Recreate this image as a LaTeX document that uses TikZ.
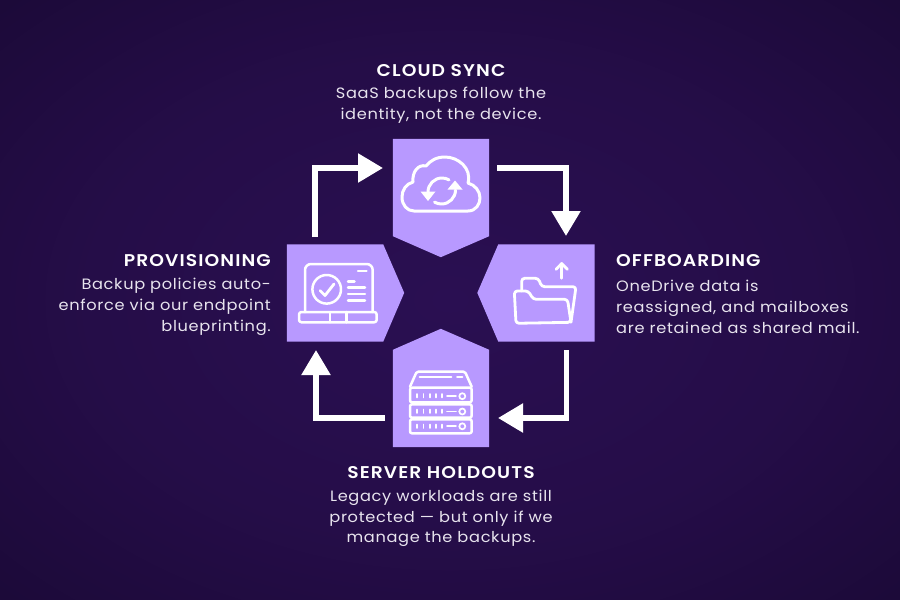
\documentclass[tikz,border=0pt]{standalone}
\usepackage{fontspec}
\usetikzlibrary{arrows.meta}
\newfontfamily\captionfont[LetterSpace=4.5,FakeStretch=1.08]{Poppins}
\newfontfamily\titlefont[LetterSpace=6.5,FakeStretch=1.1]{Poppins SemiBold}
\definecolor{lavender}{HTML}{B899FF}
\definecolor{captiongray}{HTML}{E8E4EE}
\definecolor{glowA}{RGB}{42,15,82}
\definecolor{glowB}{RGB}{37,13,72}
\definecolor{glowC}{RGB}{25,9,52}
\definecolor{glowD}{RGB}{13,6,28}
\definecolor{glowE}{RGB}{8,4,18}
\pgfdeclareradialshading{glow}{\pgfpoint{0bp}{0bp}}{color(0bp)=(glowA); color(20bp)=(glowB); color(40bp)=(glowC); color(60bp)=(glowD); color(71bp)=(glowE)}

\begin{document}
\begin{tikzpicture}[x=1pt, y=-1pt]
\tikzstyle{block} = [rectangle, minimum width=96pt, minimum height=97pt, inner sep=0pt]
\tikzstyle{flow} = [draw=white, line width=5.4pt, -{Triangle[length=25pt,width=28pt]}]
\tikzstyle{icon} = [draw=white, line width=2.5pt, line join=round, line cap=round]
\tikzstyle{thin} = [draw=white, line width=1.7pt, line cap=round]
\tikzstyle{title} = [text=white, inner sep=0pt, font=\titlefont\fontsize{17}{20}\selectfont]
\tikzstyle{caption} = [text=captiongray, inner sep=0pt, font=\captionfont\fontsize{15}{20.8}\selectfont]
\useasboundingbox (0,0) rectangle (900,600);
\path[shading=glow] (0,0) rectangle (900,600);
% blocks
\node (cloud) at (441,187.5) [block] {};
\node (provisioning) at (335,293) [block] {};
\node (offboarding) at (546.5,293) [block] {};
\node (server) at (441,398.5) [block] {};
\fill[lavender] (cloud.north west) -- (cloud.south west) -- ++(48,21) -- (cloud.south east) -- (cloud.north east) -- cycle;
\fill[lavender] (provisioning.north west) -- (provisioning.north east) -- ++(21,48.5) -- (provisioning.south east) -- (provisioning.south west) -- cycle;
\fill[lavender] (offboarding.north east) -- (offboarding.north west) -- ++(-21,48.5) -- (offboarding.south west) -- (offboarding.south east) -- cycle;
\fill[lavender] (server.south west) -- (server.north west) -- ++(48,-21) -- (server.north east) -- (server.south east) -- cycle;
% arrows
\coordinate (flowA_in) at (315,237);
\coordinate (flowA_out) at (383,168);
\coordinate (flowB_in) at (497,168);
\coordinate (flowB_out) at (566,236);
\coordinate (flowC_in) at (566.5,350);
\coordinate (flowC_out) at (498,418);
\coordinate (flowD_in) at (385,418);
\coordinate (flowD_out) at (316,350);
\draw[flow] (flowA_in) |- (flowA_out);
\draw[flow] (flowB_in) -| (flowB_out);
\draw[flow] (flowC_in) |- (flowC_out);
\draw[flow] (flowD_in) -| (flowD_out);
% cloud icon
\draw[icon, line width=3pt] (414,211) -- (468,211) .. controls (476,211) and (480,204) .. (480,198) .. controls (480,191) and (475,185) .. (468,183) .. controls (472,168) and (458,157) .. (445,157) .. controls (436,157) and (430,161) .. (426,166) .. controls (418,164) and (412,172) .. (413,182) .. controls (406,184) and (402,190) .. (402,197) .. controls (402,205) and (407,211) .. (414,211) -- cycle;
\draw[icon, line width=3pt] (428,192) arc (180:300:14);
\draw[icon, line width=3pt] (455.5,190) arc (0:120:14);
\fill[white] (420.5,191.5) -- (435.5,191.5) -- (428,201) -- cycle;
\fill[white] (447.5,189.5) -- (462.5,189.5) -- (455,180.5) -- cycle;
% laptop icon
\draw[icon, rounded corners=6pt] (305,312) -- (305,264) -- (372.7,264) -- (372.7,312);
\draw[icon, rounded corners=2.5pt] (299,312) rectangle (376.7,322.3);
\draw[icon] (330,312) -- (330,322.3);
\draw[icon] (346.7,312) -- (346.7,322.3);
\draw[icon] (326.7,289.3) circle (14.3);
\draw[icon, line width=2.8pt] (320,290.5) -- (325,295.5) -- (334,284);
\draw[icon] (358,271) -- (366.5,271);
\draw[icon] (348,281.7) -- (354.5,281.7);
\draw[icon] (348,287.7) -- (365,287.7);
\draw[icon] (348,294) -- (365,294);
\draw[icon] (348,300.3) -- (365,300.3);
% folder icon
\draw[icon, line width=2.8pt, rounded corners=3pt] (521.7,291) -- (521.7,278.3) -- (538.3,278.3) -- (541.7,286.7) -- (576,286.7) -- (571,322.3);
\draw[icon, line width=2.8pt, rounded corners=3pt] (516,323.3) -- (514.3,291) -- (528.3,291) -- (533.3,299.3) -- (567.5,299.3) -- (571,322.3) -- cycle;
\draw[icon] (561.7,278.3) -- (561.7,265);
\draw[icon, line width=2.8pt] (556,269.3) -- (561.7,263.5) -- (567.5,269.3);
% server icon
\draw[icon, rounded corners=1.5pt] (410,386.7) -- (416.7,371.7) -- (465,371.7) -- (471.7,386.7);
\draw[thin] (419.5,376.7) -- (451.5,376.7);
\draw[thin] (457,376.7) -- (462.5,376.7);
\draw[icon, rounded corners=2pt] (410,387.7) rectangle (471.7,402.3);
\draw[icon, rounded corners=2pt] (410,404.3) rectangle (471.7,417.7);
\draw[icon, rounded corners=2pt] (410,419.3) rectangle (471.7,433.3);
\draw[thin] (417.3,394) -- (417.3,397.5);
\draw[thin] (423.5,394) -- (423.5,397.5);
\draw[thin] (430,394) -- (430,397.5);
\draw[thin] (436,394) -- (436,397.5);
\draw[thin] (442.3,394) -- (442.3,397.5);
\draw[thin] (447,396.2) -- (456,396.2);
\draw[thin] (462.3,396.2) circle (3);
\draw[thin] (417.3,409.5) -- (417.3,413);
\draw[thin] (423.5,409.5) -- (423.5,413);
\draw[thin] (430,409.5) -- (430,413);
\draw[thin] (436,409.5) -- (436,413);
\draw[thin] (442.3,409.5) -- (442.3,413);
\draw[thin] (447,411.5) -- (456,411.5);
\draw[thin] (462.3,411.5) circle (3);
\draw[thin] (417.3,424.5) -- (417.3,428);
\draw[thin] (423.5,424.5) -- (423.5,428);
\draw[thin] (430,424.5) -- (430,428);
\draw[thin] (436,424.5) -- (436,428);
\draw[thin] (442.3,424.5) -- (442.3,428);
\draw[thin] (447,426.3) -- (456,426.3);
\draw[thin] (462.3,426.3) circle (3);
% labels
\node (cloudTitle) at (441,71) [title] {CLOUD SYNC};
\node (cloudText) at (441,105.5) [caption, align=center] {SaaS backups follow the\\identity, not the device.};
\node (provisioningTitle) at (271,261) [title, anchor=east] {PROVISIONING};
\node (provisioningText) at (271,307) [caption, align=right, anchor=east] {Backup policies auto-\\enforce via our endpoint\\blueprinting.};
\node (offboardingTitle) at (616,261) [title, anchor=west] {OFFBOARDING};
\node (offboardingText) at (616,307) [caption, align=left, anchor=west] {OneDrive data is\\reassigned, and mailboxes\\are retained as shared mail.};
\node (serverTitle) at (441,473) [title] {SERVER HOLDOUTS};
\node (serverText) at (441,518.5) [caption, align=center] {Legacy workloads are still\\protected — but only if we\\manage the backups.};
\end{tikzpicture}
\end{document}
